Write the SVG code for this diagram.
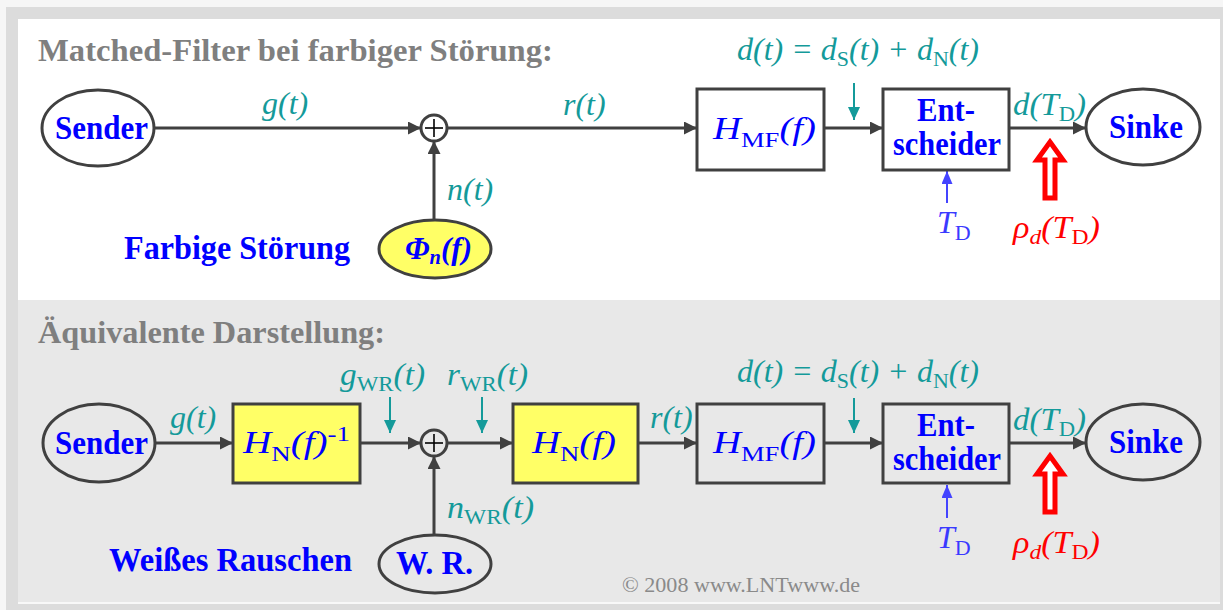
<svg xmlns="http://www.w3.org/2000/svg" width="1223" height="610" viewBox="0 0 1223 610">
<defs>
<style>
.title{font-family:"Liberation Serif",serif;font-weight:bold;font-size:32px;fill:#7f7f7f}
.lbl{font-family:"Liberation Serif",serif;font-weight:bold;font-size:33px;fill:#0000ff}
.math{font-family:"Liberation Serif",serif;font-style:italic;font-size:32px}
.teal{fill:#149a9a}
.blue{fill:#0000ff}
.lblue{fill:#3a3aff}
.red{fill:#ff0000}
.sub{font-style:normal;font-size:22px}
.node{fill:none;stroke:#404040;stroke-width:3}
.white{fill:#ffffff}
.yellow{fill:#ffff66}
.conn{fill:none;stroke:#404040;stroke-width:3;marker-end:url(#ah)}
.tarr{fill:none;stroke:#149a9a;stroke-width:2;marker-end:url(#th)}
.barr{fill:none;stroke:#4444ff;stroke-width:2;marker-end:url(#bh)}
.rarr{fill:#ffffff;stroke:#ff0000;stroke-width:5;stroke-linejoin:miter}
.plus{stroke:#000;stroke-width:1.6}
</style>
<marker id="ah" markerUnits="userSpaceOnUse" markerWidth="14" markerHeight="14" refX="13" refY="6.5" orient="auto"><path d="M0,0 L13,6.5 L0,13 z" fill="#404040"/></marker>
<marker id="th" markerUnits="userSpaceOnUse" markerWidth="14" markerHeight="14" refX="13" refY="6" orient="auto"><path d="M0,0 L13,6 L0,12 z" fill="#149a9a"/></marker>
<marker id="bh" markerUnits="userSpaceOnUse" markerWidth="14" markerHeight="14" refX="13" refY="5.5" orient="auto"><path d="M0,0 L13,5.5 L0,11 z" fill="#4444ff"/></marker>
</defs>

<rect x="0" y="0" width="1223" height="610" fill="#f6f6f6"/>
<rect x="6" y="7" width="1217" height="603" fill="#dcdcdc"/>
<rect x="18" y="19" width="1202" height="281" fill="#ffffff"/>
<rect x="18" y="300" width="1202" height="302" fill="#e8e8e8"/>
<rect x="18" y="602" width="1202" height="2" fill="#f8f8f8"/>

<text class="title" x="38" y="61" textLength="515" lengthAdjust="spacingAndGlyphs">Matched-Filter bei farbiger Störung:</text>
<text class="title" x="38" y="343" textLength="347" lengthAdjust="spacingAndGlyphs">Äquivalente Darstellung:</text>

<g id="connectors">
<line class="conn" x1="155" y1="128" x2="421" y2="128"/>
<line class="conn" x1="434" y1="220" x2="434" y2="141"/>
<line class="conn" x1="447" y1="128" x2="697" y2="128"/>
<line class="conn" x1="824" y1="128" x2="883" y2="128"/>
<line class="conn" x1="1009" y1="128" x2="1086" y2="128"/>
<line class="tarr" x1="854" y1="83" x2="854" y2="120"/>
<line class="barr" x1="947" y1="203" x2="947" y2="171"/>
<polygon class="rarr" points="1050,142 1063,160 1055,160 1055,198 1045,198 1045,160 1037,160"/>

<line class="conn" x1="155" y1="443" x2="233" y2="443"/>
<line class="conn" x1="360" y1="443" x2="421" y2="443"/>
<line class="conn" x1="434" y1="535" x2="434" y2="456"/>
<line class="conn" x1="447" y1="443" x2="513" y2="443"/>
<line class="conn" x1="638" y1="443" x2="697" y2="443"/>
<line class="conn" x1="824" y1="443" x2="883" y2="443"/>
<line class="conn" x1="1009" y1="443" x2="1086" y2="443"/>
<line class="tarr" x1="390" y1="397" x2="390" y2="433"/>
<line class="tarr" x1="482" y1="397" x2="482" y2="433"/>
<line class="tarr" x1="854" y1="398" x2="854" y2="433"/>
<line class="barr" x1="947" y1="518" x2="947" y2="485"/>
<polygon class="rarr" points="1050,456 1063,474 1055,474 1055,512 1045,512 1045,474 1037,474"/>

<text class="math teal" x="262" y="114">g(t)</text>
<text class="math teal" x="563" y="115">r(t)</text>
<text class="math teal" x="447" y="200">n(t)</text>
<text class="math teal" x="737" y="60" textLength="242" lengthAdjust="spacingAndGlyphs">d(t) = d<tspan class="sub" dy="6">S</tspan><tspan dy="-6">(t) + d</tspan><tspan class="sub" dy="6">N</tspan><tspan dy="-6">(t)</tspan></text>
<text class="math teal" x="1013" y="115" textLength="73" lengthAdjust="spacingAndGlyphs">d(T<tspan class="sub" dy="6">D</tspan><tspan dy="-6">)</tspan></text>
<text class="math lblue" x="937" y="233">T<tspan class="sub" dy="7">D</tspan></text>
<text class="math red" x="1013" y="238" textLength="87" lengthAdjust="spacingAndGlyphs">ρ<tspan font-size="22" dy="6">d</tspan><tspan dy="-6">(T</tspan><tspan class="sub" dy="6">D</tspan><tspan dy="-6">)</tspan></text>

<text class="math teal" x="170" y="428">g(t)</text>
<text class="math teal" x="340" y="385" textLength="85" lengthAdjust="spacingAndGlyphs">g<tspan class="sub" dy="6">WR</tspan><tspan dy="-6">(t)</tspan></text>
<text class="math teal" x="447" y="385" textLength="81" lengthAdjust="spacingAndGlyphs">r<tspan class="sub" dy="6">WR</tspan><tspan dy="-6">(t)</tspan></text>
<text class="math teal" x="447" y="518" textLength="87" lengthAdjust="spacingAndGlyphs">n<tspan class="sub" dy="6">WR</tspan><tspan dy="-6">(t)</tspan></text>
<text class="math teal" x="650" y="428">r(t)</text>
<text class="math teal" x="737" y="382" textLength="242" lengthAdjust="spacingAndGlyphs">d(t) = d<tspan class="sub" dy="6">S</tspan><tspan dy="-6">(t) + d</tspan><tspan class="sub" dy="6">N</tspan><tspan dy="-6">(t)</tspan></text>
<text class="math teal" x="1013" y="430" textLength="73" lengthAdjust="spacingAndGlyphs">d(T<tspan class="sub" dy="6">D</tspan><tspan dy="-6">)</tspan></text>
<text class="math lblue" x="937" y="548">T<tspan class="sub" dy="7">D</tspan></text>
<text class="math red" x="1013" y="553" textLength="87" lengthAdjust="spacingAndGlyphs">ρ<tspan font-size="22" dy="6">d</tspan><tspan dy="-6">(T</tspan><tspan class="sub" dy="6">D</tspan><tspan dy="-6">)</tspan></text>
</g>

<g id="sender1">
<ellipse class="node white" cx="98" cy="128" rx="56" ry="38"/>
<text class="lbl" x="55" y="139" textLength="93" lengthAdjust="spacingAndGlyphs">Sender</text>
</g>
<g id="adder1">
<circle class="node white" cx="434" cy="128" r="13" stroke-width="2.5"/>
<line class="plus" x1="425" y1="128" x2="443" y2="128"/>
<line class="plus" x1="434" y1="119" x2="434" y2="137"/>
</g>
<g id="noise1">
<ellipse class="node yellow" cx="435" cy="249" rx="56" ry="29"/>
<text class="math blue" x="405" y="259" font-weight="bold" font-size="30" textLength="67" lengthAdjust="spacingAndGlyphs">Φ<tspan style="font-size:21px;font-style:italic" dy="5">n</tspan><tspan dy="-5">(f)</tspan></text>
</g>
<text class="lbl" x="124" y="259" textLength="226" lengthAdjust="spacingAndGlyphs">Farbige Störung</text>
<g id="hmf1">
<rect class="node white" x="697" y="89" width="127" height="81"/>
<text class="math blue" x="713" y="139" font-size="38" textLength="103" lengthAdjust="spacingAndGlyphs">H<tspan class="sub" font-size="24" dy="8">MF</tspan><tspan dy="-8">(f)</tspan></text>
</g>
<g id="ent1">
<rect class="node white" x="883" y="89" width="126" height="81"/>
<text class="lbl" x="917" y="121" font-size="26" textLength="58" lengthAdjust="spacingAndGlyphs">Ent-</text>
<text class="lbl" x="893" y="155" font-size="26" textLength="108" lengthAdjust="spacingAndGlyphs">scheider</text>
</g>
<g id="sinke1">
<ellipse class="node white" cx="1143" cy="127" rx="57" ry="38"/>
<text class="lbl" x="1109" y="138" textLength="74" lengthAdjust="spacingAndGlyphs">Sinke</text>
</g>

<g id="sender2">
<ellipse class="node" cx="99" cy="443" rx="56" ry="39"/>
<text class="lbl" x="55" y="454" textLength="93" lengthAdjust="spacingAndGlyphs">Sender</text>
</g>
<g id="hninv">
<rect class="node yellow" x="233" y="404" width="127" height="79"/>
<text class="math blue" x="243" y="453" font-size="38" textLength="107" lengthAdjust="spacingAndGlyphs">H<tspan class="sub" font-size="24" dy="8">N</tspan><tspan dy="-8">(f)</tspan><tspan class="sub" font-size="24" dy="-12">-1</tspan></text>
</g>
<g id="adder2">
<circle class="node" cx="434" cy="443" r="13" stroke-width="2.5"/>
<line class="plus" x1="425" y1="443" x2="443" y2="443"/>
<line class="plus" x1="434" y1="434" x2="434" y2="452"/>
</g>
<g id="wr">
<ellipse class="node" cx="435" cy="564" rx="56" ry="29"/>
<text class="lbl" x="396" y="574" textLength="77" lengthAdjust="spacingAndGlyphs">W. R.</text>
</g>
<text class="lbl" x="109" y="571" textLength="243" lengthAdjust="spacingAndGlyphs">Weißes Rauschen</text>
<g id="hn">
<rect class="node yellow" x="513" y="404" width="125" height="79"/>
<text class="math blue" x="532" y="453" font-size="38" textLength="84" lengthAdjust="spacingAndGlyphs">H<tspan class="sub" font-size="24" dy="8">N</tspan><tspan dy="-8">(f)</tspan></text>
</g>
<g id="hmf2">
<rect class="node" x="697" y="404" width="127" height="79"/>
<text class="math blue" x="713" y="453" font-size="38" textLength="103" lengthAdjust="spacingAndGlyphs">H<tspan class="sub" font-size="24" dy="8">MF</tspan><tspan dy="-8">(f)</tspan></text>
</g>
<g id="ent2">
<rect class="node" x="883" y="404" width="126" height="79"/>
<text class="lbl" x="917" y="436" font-size="26" textLength="58" lengthAdjust="spacingAndGlyphs">Ent-</text>
<text class="lbl" x="893" y="470" font-size="26" textLength="108" lengthAdjust="spacingAndGlyphs">scheider</text>
</g>
<g id="sinke2">
<ellipse class="node" cx="1143" cy="442" rx="57" ry="38"/>
<text class="lbl" x="1109" y="453" textLength="74" lengthAdjust="spacingAndGlyphs">Sinke</text>
</g>

<text x="622" y="592" font-family="Liberation Serif, serif" font-size="21" fill="#8a8a8a" textLength="238" lengthAdjust="spacingAndGlyphs">© 2008 www.LNTwww.de</text>
</svg>
